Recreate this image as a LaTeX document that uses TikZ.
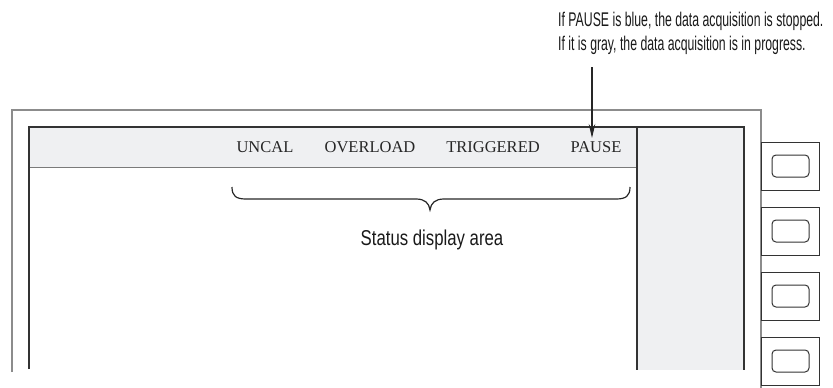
\documentclass[tikz,border=0pt]{standalone}
\usepackage{fontspec}
\setmainfont{Liberation Serif}
\newfontfamily\notefont[FakeStretch=0.62]{Liberation Sans}
\newfontfamily\areafont[FakeStretch=0.78]{Liberation Sans}
\usetikzlibrary{arrows.meta}
\definecolor{panelgray}{HTML}{EFF0F2}
\definecolor{framegray}{HTML}{8C8C8C}
\definecolor{linedark}{HTML}{333333}
\definecolor{barline}{HTML}{7A7A7A}
\tikzset{
  statuslbl/.style={anchor=base, inner sep=0pt, font=\fontsize{16.5}{18}\selectfont, text=black!85},
  notelbl/.style={anchor=base west, inner sep=0pt, font=\notefont\fontsize{19.8}{22}\selectfont, text=black!90},
  arealbl/.style={anchor=base, inner sep=0pt, font=\areafont\fontsize{21.5}{24}\selectfont, text=black!90},
  btnbox/.style={draw=linedark, line width=1pt},
  btnkey/.style={draw=linedark, line width=1pt, rounded corners=4pt},
}
\begin{document}
\begin{tikzpicture}[x=1pt,y=-1pt]
\useasboundingbox (0,0) rectangle (833,388);
% outer frame
\draw[framegray, line width=1.6pt] (12,372) -- (12,110) -- (761,110) -- (761,388);
% status bar and side panel
\fill[panelgray] (29,127) rectangle (744,167);
\fill[panelgray] (637,127) rectangle (744,370);
\draw[barline, line width=1pt] (29,167) -- (637,167);
\draw[linedark, line width=1.2pt] (29,369) -- (29,127) -- (744,127) -- (744,370);
\draw[linedark, line width=1.2pt] (637,127) -- (637,370);
% soft keys
\foreach \y in {142,207,272,337} {
  \draw[btnbox] (761,\y) rectangle (819,\y+48);
  \draw[btnkey] (772,\y+13) rectangle (809,\y+35);
}
% status labels
\node[statuslbl] (uncal) at (265,152) {UNCAL};
\node[statuslbl] (overload) at (370,152) {OVERLOAD};
\node[statuslbl] (triggered) at (493,152) {TRIGGERED};
\node[statuslbl] (pause) at (596,152) {PAUSE};
% note
\node[notelbl] (note1) at (558,26) {If PAUSE is blue, the data acquisition is stopped.};
\node[notelbl] (note2) at (558,50) {If it is gray, the data acquisition is in progress.};
\coordinate (arrowtop) at (592,67);
\coordinate (arrowtip) at (592,138);
\draw[black!85, line width=1.2pt, -{Stealth[length=14pt,width=6.5pt]}] (arrowtop) -- (arrowtip);
% brace
\draw[black!85, line width=1.2pt]
  (232,187) .. controls (232,196) and (236,199) .. (246,199) -- (416,199)
  .. controls (425,199) and (429,203) .. (430,210)
  .. controls (431,203) and (435,199) .. (444,199) -- (616,199)
  .. controls (626,199) and (630,196) .. (630,187);
\node[arealbl] (area) at (432,245) {Status display area};
\end{tikzpicture}
\end{document}
